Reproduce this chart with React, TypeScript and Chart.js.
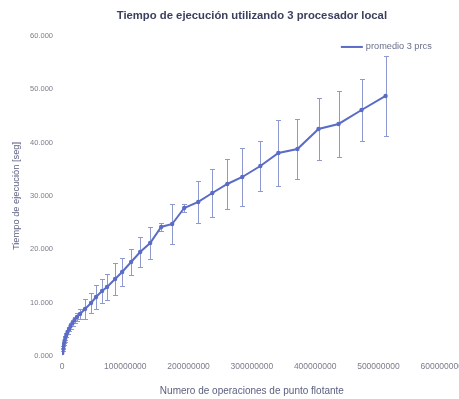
import React, { useEffect, useRef } from "react";
import { Chart, registerables } from "chart.js";

Chart.register(...registerables);

const seriesLabel = "promedio 3 prcs";
const titleText = "Tiempo de ejecución utilizando 3 procesador local";
const xTitle = "Numero de operaciones de punto flotante";
const yTitle = "Tiempo de ejecución [seg]";

const opsX = [
  500000, 1100000, 1900000, 2850000, 3960000, 5200000, 6800000, 8700000,
  11100000, 13500000, 16600000, 19800000, 23700000, 28500000, 36400000,
  45900000, 53800000, 63300000, 71200000, 83900000, 95000000, 109200000,
  123500000, 139300000, 156700000, 174100000, 193100000, 215300000,
  237500000, 261200000, 284900000, 313400000, 341900000, 372000000,
  405300000, 437000000, 473300000, 511300000,
];
const meanY = [
  560, 1120, 1690, 2250, 2810, 3380, 3940, 4500, 5060, 5630, 6190, 6750,
  7310, 7880, 8810, 9940, 11060, 12190, 12940, 14440, 15750, 17620, 19500,
  21190, 24190, 24750, 27750, 28880, 30560, 32250, 33560, 35620, 38060,
  38810, 42560, 43500, 46120, 48750,
];
const stdY = [
  0, 100, 150, 200, 250, 300, 350, 400, 450, 500, 550, 650, 750, 940, 1875,
  1875, 2250, 2250, 2440, 3000, 2625, 2440, 2810, 3000, 750, 3750, 750,
  3940, 4500, 4690, 5440, 4690, 6190, 5625, 5810, 6190, 5810, 7500,
];
const xTicks = [0, 100000000, 200000000, 300000000, 400000000, 500000000, 600000000];

const lineColor = "#5b6cc6";
const errColor = "#8e99cf";

const errorBarPlugin = {
  id: "errorBars",
  beforeDatasetsDraw(chart: any) {
    const { ctx, scales } = chart;
    const xs = scales.x;
    const ys = scales.y;
    ctx.save();
    ctx.strokeStyle = errColor;
    ctx.lineWidth = 1;
    for (let i = 0; i < opsX.length; i++) {
      if (!stdY[i]) continue;
      const px = Math.round(xs.getPixelForValue(opsX[i])) + 0.5;
      const top = ys.getPixelForValue(meanY[i] + stdY[i]);
      const bot = ys.getPixelForValue(meanY[i] - stdY[i]);
      ctx.beginPath();
      ctx.moveTo(px, top);
      ctx.lineTo(px, bot);
      ctx.moveTo(px - 2.5, Math.round(top) + 0.5);
      ctx.lineTo(px + 2.5, Math.round(top) + 0.5);
      ctx.moveTo(px - 2.5, Math.round(bot) + 0.5);
      ctx.lineTo(px + 2.5, Math.round(bot) + 0.5);
      ctx.stroke();
    }
    ctx.restore();
  },
};

const legendPlugin = {
  id: "insideLegend",
  afterDraw(chart: any) {
    const { ctx, chartArea } = chart;
    const label = chart.data.datasets[0].label;
    ctx.save();
    ctx.font = "9.2px 'Liberation Sans'";
    ctx.fillStyle = "#6a6f8a";
    ctx.textAlign = "right";
    ctx.textBaseline = "middle";
    const xr = chartArea.right - 10;
    const y = chartArea.top + 11;
    ctx.fillText(label, xr, y);
    const w = ctx.measureText(label).width;
    const xs = xr - w - 3;
    ctx.strokeStyle = lineColor;
    ctx.lineWidth = 2;
    ctx.beginPath();
    ctx.moveTo(xs - 22, y);
    ctx.lineTo(xs, y);
    ctx.stroke();
    ctx.restore();
  },
};

export default function App() {
  const ref = useRef<HTMLCanvasElement | null>(null);
  useEffect(() => {
    if (!ref.current) return;
    const chart = new Chart(ref.current, {
      type: "line",
      data: {
        datasets: [
          {
            label: seriesLabel,
            data: opsX.map((x, i) => ({ x, y: meanY[i] })),
            borderColor: lineColor,
            backgroundColor: lineColor,
            borderWidth: 2,
            pointRadius: 1.2,
            pointBackgroundColor: lineColor,
            pointBorderColor: lineColor,
            tension: 0,
          },
        ],
      },
      options: {
        responsive: false,
        animation: false,
        layout: { padding: { left: 0, right: 0, top: 0, bottom: 0 } },
        plugins: {
          title: {
            display: true,
            fullSize: false,
            text: titleText,
            color: "#3b3f5e",
            font: { family: "Liberation Sans", size: 11.3, weight: "bold" },
            padding: { top: 9, bottom: 13.4 },
          },
          legend: { display: false },
          tooltip: { enabled: false },
        },
        scales: {
          x: {
            type: "linear",
            min: 0,
            max: 600000000,
            afterBuildTicks: (axis: any) => {
              axis.ticks = xTicks.map((v) => ({ value: v }));
            },
            afterFit: (axis: any) => {
              axis.height = 43;
            },
            grid: { display: false, drawTicks: false },
            border: { display: false },
            ticks: {
              color: "#7c7c8c",
              font: { family: "Liberation Sans", size: 8.5 },
              padding: 6,
              maxRotation: 0,
              autoSkip: false,
              callback: (v: any) => String(v),
            },
            title: {
              display: true,
              text: xTitle,
              color: "#5a5f80",
              font: { family: "Liberation Sans", size: 10 },
              padding: { top: 0, bottom: 2 },
            },
          },
          y: {
            min: 0,
            max: 60000,
            afterFit: (axis: any) => {
              axis.width = 62;
            },
            grid: { display: false, drawTicks: false },
            border: { display: false },
            ticks: {
              stepSize: 10000,
              color: "#7c7c8c",
              font: { family: "Liberation Sans", size: 7.5 },
              padding: 9,
              callback: (v: any) => (Number(v) / 1000).toFixed(3),
            },
            title: {
              display: true,
              text: yTitle,
              color: "#5a5f80",
              font: { family: "Liberation Sans", size: 9.3 },
              padding: { top: 11, bottom: 0 },
            },
          },
        },
      },
      plugins: [errorBarPlugin, legendPlugin],
    } as any);
    return () => chart.destroy();
  }, []);
  return (
    <div
      style={{
        position: "fixed",
        left: 0,
        top: 0,
        width: 459,
        height: 399,
        overflow: "hidden",
        background: "#fff",
      }}
    >
      <canvas ref={ref} width={469} height={399} style={{ display: "block" }} />
    </div>
  );
}
